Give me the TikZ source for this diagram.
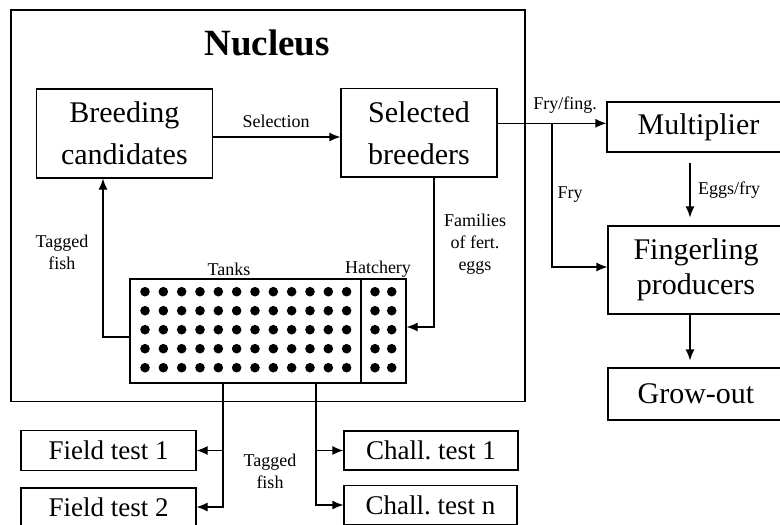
\documentclass[tikz,border=0pt]{standalone}
\usepackage{fontspec}
\setmainfont{Liberation Serif}
\usetikzlibrary{arrows.meta}
\frenchspacing
\begin{document}
\begin{tikzpicture}[x=1pt,y=-1pt,
  box/.style={draw, line width=1.2pt, inner sep=0pt, align=center, font=\fontsize{30}{42}\selectfont},
  testbox/.style={box, font=\fontsize{27}{32}\selectfont},
  lbl/.style={inner sep=0pt, align=center, font=\fontsize{18}{22}\selectfont},
  conn/.style={line width=1.2pt},
  arr/.style={conn, -{Latex[length=11pt,width=9pt]}},
  dotfill/.style={fill=black}
]
\useasboundingbox (0,0) rectangle (780,525);
\clip (0,0) rectangle (780,525);
\fill[white] (0,0) rectangle (780,525);

% boxes
\node[box, minimum width=514pt, minimum height=391.5pt] (nuc) at (268,205.75) {};
\node[box, minimum width=176pt, minimum height=89pt] (bc) at (124.4,133.5) {Breeding\\candidates};
\node[box, minimum width=156pt, minimum height=88.5pt] (sb) at (419,132.75) {Selected\\breeders};
\node[box, minimum width=276pt, minimum height=104pt] (tanks) at (268,331) {};
\node[testbox, minimum width=175pt, minimum height=40pt] (ft1) at (108.5,450.5) {Field test 1};
\node[testbox, minimum width=175pt, minimum height=38pt] (ft2) at (108.5,507) {Field test 2};
\node[testbox, minimum width=174pt, minimum height=39pt] (ct1) at (431,450.5) {Chall. test 1};
\node[testbox, minimum width=173pt, minimum height=39pt] (ctn) at (430.5,505) {Chall. test n};
\node[box, minimum width=183pt, minimum height=50pt] (mult) at (698.5,127) {Multiplier};
\node[box, minimum width=176pt, minimum height=88pt, font=\fontsize{30}{35}\selectfont] (fing) at (696,270) {Fingerling\\producers};
\node[box, minimum width=176pt, minimum height=52pt] (grow) at (696,394) {Grow-out};

% tank divider and dots
\coordinate (xDiv) at (361,0);
\draw[conn] (tanks.north -| xDiv) -- (tanks.south -| xDiv);
\foreach \j in {0,...,4} {
  \foreach \i in {0,...,11} {
    \fill[dotfill] (145+18.33*\i, 291.7+19*\j) circle (4.8pt);
  }
  \fill[dotfill] (375, 291.7+19*\j) circle (4.8pt);
  \fill[dotfill] (391.7, 291.7+19*\j) circle (4.8pt);
}

% helper coordinates
\coordinate (xTF) at (103,0);
\coordinate (xFam) at (434,0);
\coordinate (xL) at (223,0);
\coordinate (xR) at (316,0);
\coordinate (xEF) at (690,0);
\coordinate (ySel) at (0,137);
\coordinate (yTF) at (0,337);
\coordinate (yFam) at (0,327);
\coordinate (yMain) at (0,123.3);
\coordinate (yFry) at (0,267);
\coordinate (split) at (552,123.3);

% connectors
\draw[arr] (bc.east |- ySel) -- (sb.west |- ySel);
\draw[arr] (tanks.west |- yTF) -| (bc.south -| xTF);
\draw[arr] (sb.south -| xFam) |- (tanks.east |- yFam);
\draw[arr] (tanks.south -| xL) |- (ft1.east);
\draw[arr] (tanks.south -| xL) |- (ft2.east);
\draw[arr] (tanks.south -| xR) |- (ct1.west);
\draw[arr] (tanks.south -| xR) |- (ctn.west);
\draw[arr] (sb.east |- yMain) -- (mult.west |- yMain);
\draw[arr] (split) |- (fing.west |- yFry);
\draw[arr, shorten <=10pt, shorten >=8pt] (mult.south -| xEF) -- (fing.north -| xEF);
\draw[arr, shorten >=7pt] (fing.south -| xEF) -- (grow.north -| xEF);

% labels
\node[lbl, font=\bfseries\fontsize{37}{40}\selectfont] (ttl) at (267,43) {Nucleus};
\node[lbl] (lsel) at (276,121) {Selection};
\node[lbl] (ltf) at (62,252) {Tagged\\fish};
\node[lbl] (lfam) at (475,244) {Families\\of fert.\\eggs};
\node[lbl] (ltk) at (229,269) {Tanks};
\node[lbl] (lhat) at (378,269) {Hatchery};
\node[lbl] (ltf2) at (270,471) {Tagged\\fish};
\node[lbl] (lff) at (565,105) {Fry/fing.};
\node[lbl] (lfry) at (570,195) {Fry};
\node[lbl] (lef) at (729,190) {Eggs/fry};
\end{tikzpicture}
\end{document}
